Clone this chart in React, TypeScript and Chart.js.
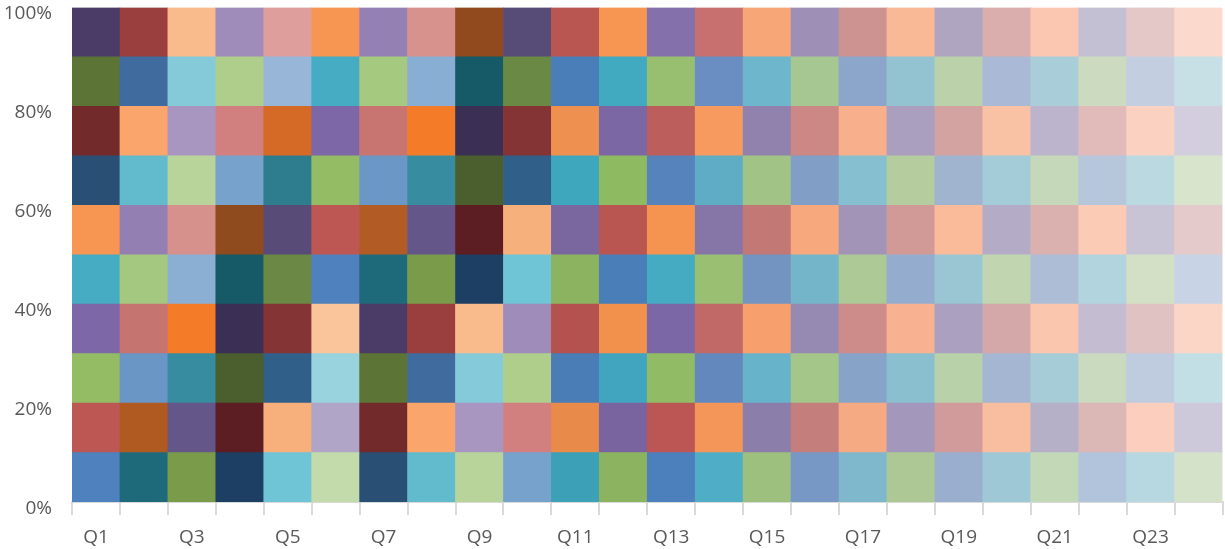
import React, { useEffect, useRef } from "react";
import { Chart, registerables } from "chart.js";

Chart.register(...registerables);

const CATEGORIES = [
  "Q1", "Q2", "Q3", "Q4", "Q5", "Q6", "Q7", "Q8", "Q9", "Q10", "Q11", "Q12",
  "Q13", "Q14", "Q15", "Q16", "Q17", "Q18", "Q19", "Q20", "Q21", "Q22", "Q23", "Q24",
];

const SERIES_NAMES = ["S1", "S2", "S3", "S4", "S5", "S6", "S7", "S8", "S9", "S10"];

const S1 = [10, 10, 10, 10, 10, 10, 10, 10, 10, 10, 10, 10, 10, 10, 10, 10, 10, 10, 10, 10, 10, 10, 10, 10];
const S2 = [10, 10, 10, 10, 10, 10, 10, 10, 10, 10, 10, 10, 10, 10, 10, 10, 10, 10, 10, 10, 10, 10, 10, 10];
const S3 = [10, 10, 10, 10, 10, 10, 10, 10, 10, 10, 10, 10, 10, 10, 10, 10, 10, 10, 10, 10, 10, 10, 10, 10];
const S4 = [10, 10, 10, 10, 10, 10, 10, 10, 10, 10, 10, 10, 10, 10, 10, 10, 10, 10, 10, 10, 10, 10, 10, 10];
const S5 = [10, 10, 10, 10, 10, 10, 10, 10, 10, 10, 10, 10, 10, 10, 10, 10, 10, 10, 10, 10, 10, 10, 10, 10];
const S6 = [10, 10, 10, 10, 10, 10, 10, 10, 10, 10, 10, 10, 10, 10, 10, 10, 10, 10, 10, 10, 10, 10, 10, 10];
const S7 = [10, 10, 10, 10, 10, 10, 10, 10, 10, 10, 10, 10, 10, 10, 10, 10, 10, 10, 10, 10, 10, 10, 10, 10];
const S8 = [10, 10, 10, 10, 10, 10, 10, 10, 10, 10, 10, 10, 10, 10, 10, 10, 10, 10, 10, 10, 10, 10, 10, 10];
const S9 = [10, 10, 10, 10, 10, 10, 10, 10, 10, 10, 10, 10, 10, 10, 10, 10, 10, 10, 10, 10, 10, 10, 10, 10];
const S10 = [10, 10, 10, 10, 10, 10, 10, 10, 10, 10, 10, 10, 10, 10, 10, 10, 10, 10, 10, 10, 10, 10, 10, 10];

const SERIES_VALUES = [S1, S2, S3, S4, S5, S6, S7, S8, S9, S10];

// Fill colour of each cell, per category, listed bottom (S1) to top (S10)
const CELL_COLORS: string[][] = [
  ["#4E81BD", "#BD5754", "#93BC64", "#7D67A6", "#45ACC4", "#F79552", "#2A4F74", "#722A2B", "#5C7536", "#4A3C66"],
  ["#1F6A7A", "#B05A22", "#6A96C6", "#C67470", "#A5C880", "#937FB1", "#62BACD", "#F9A56C", "#3F6B9E", "#9A3E3E"],
  ["#7A9C4A", "#645689", "#378D9F", "#F47C28", "#8AAFD3", "#D6918C", "#B8D49A", "#A996C0", "#84CAD8", "#FABB8C"],
  ["#1C3F63", "#5C1E22", "#4A5E2E", "#3B3054", "#165A67", "#8F4A1E", "#77A2CC", "#D1807F", "#AFCE8C", "#9F8CBB"],
  ["#6FC4D5", "#F7AF7C", "#305F8A", "#853436", "#6B8944", "#584B78", "#2D7D8F", "#D46A26", "#98B7D8", "#DD9E9C"],
  ["#C3DBAA", "#B0A5C7", "#98D3DE", "#FBC59B", "#4E81BD", "#BD5754", "#93BC64", "#7D67A6", "#45ACC4", "#F79552"],
  ["#2A4F74", "#722A2B", "#5C7536", "#4A3C66", "#1F6A7A", "#B25B24", "#6B97C6", "#C87470", "#A4C97F", "#9480B2"],
  ["#62BACD", "#F9A56C", "#3F6B9E", "#9A3E3E", "#7A9C4A", "#645689", "#378D9F", "#F47C28", "#88AED3", "#D8928E"],
  ["#B8D49A", "#A996C0", "#84CAD8", "#FABB8C", "#1C3F63", "#5C1E22", "#4A5E2E", "#3B3054", "#165A67", "#904A1E"],
  ["#77A2CC", "#D1807F", "#AFCE8C", "#9F8CBB", "#6FC4D5", "#F6B07C", "#305F8A", "#853436", "#6A8944", "#574B78"],
  ["#3CA0B6", "#E88A4A", "#4A7DB6", "#B45250", "#8CB460", "#7B67A0", "#3EA6BD", "#EE9050", "#4A7EB8", "#BA5652"],
  ["#8CB460", "#7A64A0", "#42A5BF", "#F1914C", "#4A7EB8", "#BA5652", "#8EBA62", "#7B67A3", "#42AAC0", "#F79552"],
  ["#4C80BC", "#BC5654", "#91BB65", "#7B67A6", "#44ABC2", "#F49450", "#5683BC", "#BC5E5C", "#98BE6F", "#8470AA"],
  ["#4FAEC5", "#F49659", "#6288BE", "#C06966", "#9ABE72", "#8676A8", "#5EADC4", "#F79A60", "#6A8EC2", "#C6716F"],
  ["#9DC07E", "#8B7EAA", "#67B4CA", "#F7A06E", "#7394C0", "#C27874", "#A1C385", "#9082AD", "#6DB6CB", "#F7A677"],
  ["#7797C4", "#C47E7C", "#A5C689", "#9689B2", "#75B5CA", "#F7A87C", "#809EC6", "#CB8885", "#A6C792", "#9D8FB5"],
  ["#7FB8CC", "#F5AA84", "#88A3C8", "#CD8C8A", "#ACC996", "#A294B7", "#86BFD0", "#F8AF8C", "#8BA6CA", "#CC9390"],
  ["#AEC895", "#A397BB", "#8ABFCF", "#F8B291", "#94ADCF", "#D29A97", "#B5CC9F", "#AB9FC0", "#93C2D1", "#F9B896"],
  ["#9AAFCE", "#D09B9A", "#B8D1A8", "#ACA0C0", "#9AC5D3", "#F9BB9A", "#A0B4D0", "#D3A3A1", "#BAD1AA", "#AFA5C1"],
  ["#9FC8D6", "#F9BEA0", "#A4B6D2", "#D4A8A8", "#C1D6B0", "#B4ACC6", "#A3CBD8", "#F9C2A4", "#AABAD6", "#D9AEAD"],
  ["#C3D8B6", "#B5AFC8", "#A6CCD8", "#FBC6AE", "#AEBDD6", "#DBB1B0", "#C5D8B9", "#BBB4CC", "#AACED9", "#FBC7B1"],
  ["#B2C3DC", "#DBB7B6", "#CADABF", "#C4BDD1", "#B1D4DF", "#FBCBB6", "#B6C6DB", "#E0BBBA", "#CCDBBF", "#C4C0D3"],
  ["#B7D8E1", "#FBCEBE", "#BFCBDF", "#E1C2C2", "#D3E0C6", "#C8C4D5", "#BAD9E1", "#FBD2C1", "#C3CEE0", "#E4C8C8"],
  ["#D5E2CA", "#CDC9DA", "#C2DFE5", "#FBD6C6", "#C8D4E5", "#E4CACA", "#D8E5CC", "#D3CEDE", "#C6E0E5", "#FBD9CC"],
];

const FONT = { family: "'Open Sans', 'Liberation Sans', sans-serif", size: 19, lineHeight: 1.2 };
const TEXT_COLOR = "#595959";
const AXIS_COLOR = "#D9D9D9";

export default function App() {
  const canvasRef = useRef<HTMLCanvasElement | null>(null);

  useEffect(() => {
    if (!canvasRef.current) return;
    const totals = CATEGORIES.map((_, i) =>
      SERIES_VALUES.reduce((s, arr) => s + arr[i], 0)
    );
    const datasets = SERIES_VALUES.map((arr, k) => ({
      label: SERIES_NAMES[k],
      data: arr.map((v, i) => (v / totals[i]) * 100),
      backgroundColor: CELL_COLORS.map((col) => col[k]),
      borderWidth: 0,
      barPercentage: 1,
      categoryPercentage: 1,
    }));

    const chart = new Chart(canvasRef.current, {
      type: "bar",
      data: { labels: CATEGORIES, datasets },
      options: {
        animation: false,
        responsive: true,
        maintainAspectRatio: false,
        layout: { padding: { top: 7.5, right: 2.5, left: 0, bottom: 0 } },
        plugins: {
          legend: { display: false },
          tooltip: { enabled: false },
        },
        scales: {
          x: {
            stacked: true,
            grid: {
              display: true,
              drawOnChartArea: false,
              drawTicks: true,
              tickLength: 13,
              color: AXIS_COLOR,
              lineWidth: 2,
              offset: true,
            },
            border: { display: true, color: AXIS_COLOR, width: 2 },
            ticks: {
              autoSkip: false,
              maxRotation: 0,
              minRotation: 0,
              padding: 11,
              color: TEXT_COLOR,
              font: FONT,
              callback: (_v: any, i: number) => (i % 2 === 0 ? CATEGORIES[i] : ""),
            },
            afterFit: (scale: any) => {
              scale.height = 47;
              scale.paddingLeft = 0;
              scale.paddingRight = 0;
            },
          },
          y: {
            stacked: true,
            min: 0,
            max: 100,
            grid: { display: false, drawTicks: false },
            border: { display: false },
            ticks: {
              stepSize: 20,
              padding: 20,
              labelOffset: 6.5,
              color: TEXT_COLOR,
              font: FONT,
              callback: (v: any) => v + "%",
            },
            afterFit: (scale: any) => {
              scale.width = 72;
              scale.paddingTop = 0;
              scale.paddingBottom = 0;
            },
          },
        },
      },
    });
    return () => chart.destroy();
  }, []);

  return (
    <div style={{ position: "fixed", left: 0, top: 0, width: 1225, height: 549, background: "#fff" }}>
      <canvas ref={canvasRef} />
    </div>
  );
}
